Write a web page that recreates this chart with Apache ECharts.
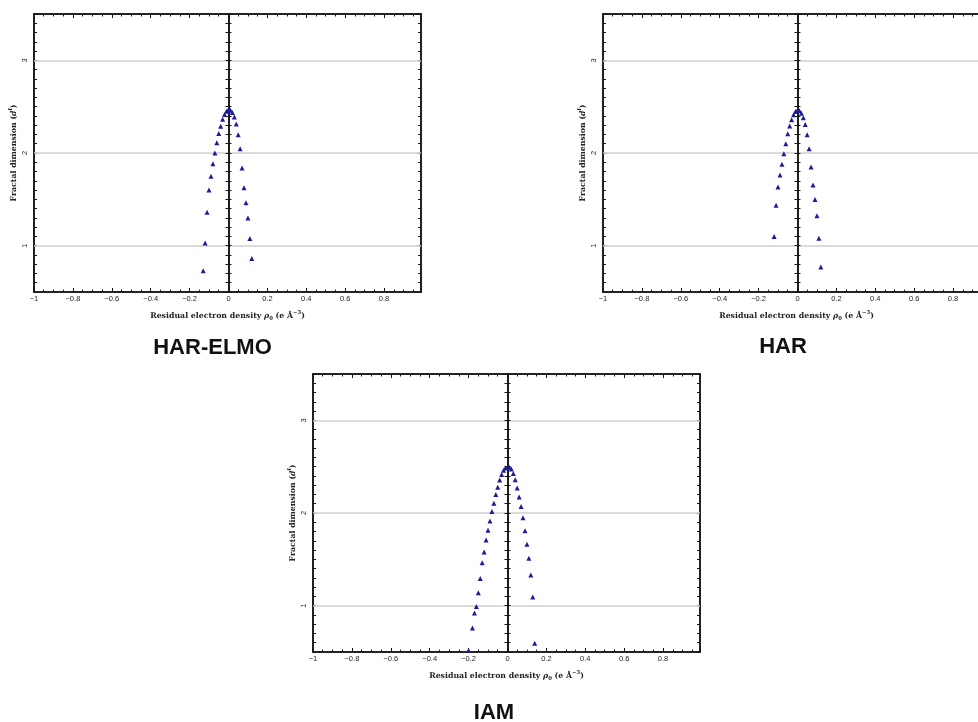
<!DOCTYPE html>
<html>
<head>
<meta charset="utf-8">
<script src="https://cdn.jsdelivr.net/npm/echarts@6/dist/echarts.min.js"></script>
<style>
  html, body { margin: 0; padding: 0; background: #ffffff; }
  #chart { width: 978px; height: 722px; }
</style>
</head>
<body>
<div id="chart"></div>
<script>
// Fractal dimension d^f of the residual electron density, binned by rho_0 (e Å^-3)

// HAR-ELMO refinement
const harElmoRho = [-0.13, -0.12, -0.11, -0.10, -0.09, -0.08, -0.07, -0.06, -0.05, -0.04, -0.03, -0.02, -0.01,
  0.00, 0.01, 0.02, 0.03, 0.04, 0.05, 0.06, 0.07, 0.08, 0.09, 0.10, 0.11, 0.12];
const harElmoDf = [0.73, 1.03, 1.36, 1.60, 1.75, 1.885, 2.00, 2.11, 2.21, 2.29, 2.365, 2.415, 2.45,
  2.47, 2.46, 2.437, 2.388, 2.314, 2.197, 2.047, 1.839, 1.625, 1.462, 1.298, 1.078, 0.862];

// HAR refinement
const harRho = [-0.12, -0.11, -0.10, -0.09, -0.08, -0.07, -0.06, -0.05, -0.04, -0.03, -0.02, -0.01,
  0.00, 0.01, 0.02, 0.03, 0.04, 0.05, 0.06, 0.07, 0.08, 0.09, 0.10, 0.11, 0.12];
const harDf = [1.10, 1.435, 1.633, 1.763, 1.878, 1.993, 2.10, 2.207, 2.291, 2.36, 2.412, 2.448,
  2.465, 2.457, 2.43, 2.38, 2.308, 2.198, 2.045, 1.849, 1.655, 1.498, 1.322, 1.079, 0.770];

// IAM refinement
const iamRho = [-0.20, -0.18, -0.17, -0.16, -0.15, -0.14, -0.13, -0.12, -0.11, -0.10, -0.09, -0.08, -0.07,
  -0.06, -0.05, -0.04, -0.03, -0.02, -0.01, 0.00, 0.01, 0.02, 0.03, 0.04, 0.05, 0.06, 0.07, 0.08,
  0.09, 0.10, 0.11, 0.12, 0.13, 0.14];
const iamDf = [0.52, 0.759, 0.92, 0.99, 1.14, 1.293, 1.464, 1.579, 1.709, 1.813, 1.914, 2.016, 2.106,
  2.20, 2.278, 2.355, 2.416, 2.46, 2.486, 2.495, 2.493, 2.475, 2.426, 2.358, 2.27, 2.173, 2.07, 1.948,
  1.809, 1.662, 1.512, 1.331, 1.094, 0.595];

const panelTitles = ['HAR-ELMO', 'HAR', 'IAM'];
const yLabelValues = [1, 2, 3];   // labelled ticks and grey reference lines
const xMin = -1, xMax = 0.99, xStep = 0.2;
const yMin = 0.5, yMax = 3.5, yStep = 0.1;

// layout of the three panels (pixels)
const layout = [
  { rho: harElmoRho, df: harElmoDf, left: 34,  top: 14,  titleX: 212.5, titleY: 337 },
  { rho: harRho,     df: harDf,     left: 603, top: 14,  titleX: 783,   titleY: 336 },
  { rho: iamRho,     df: iamDf,     left: 313, top: 374, titleX: 494,   titleY: 702 }
];
const plotW = 387, plotH = 278;

const ink = '#151515';
const serif = 'DejaVu Serif';
const nameRich = {
  t: { fontFamily: serif, fontWeight: 'bold', fontSize: 7.8, color: '#222', lineHeight: 11 },
  i: { fontFamily: serif, fontWeight: 'bold', fontStyle: 'italic', fontSize: 7.8, color: '#222', lineHeight: 11 },
  s: { fontFamily: serif, fontWeight: 'bold', fontSize: 5.3, color: '#222', lineHeight: 6, verticalAlign: 'bottom' },
  u: { fontFamily: serif, fontWeight: 'bold', fontSize: 5.3, color: '#222', lineHeight: 6, verticalAlign: 'top' }
};
const xName = '{t|Residual electron density }{i|ρ}{s|0}{t| (e Å}{u|−3}{t|)}';
const yName = '{t|Fractal dimension (}{i|d}{u|f}{t|)}';

function xLabel(v) {
  if (v > 0.9) return '';
  const r = Math.round(v * 10) / 10;
  return r < 0 ? '\u2212' + Math.abs(r) : String(Math.abs(r));
}

const tickStyle = { color: ink, width: 1 };
const labelFont = { fontFamily: 'Liberation Sans', fontSize: 7.5, color: '#1e1e1e' };

const grids = [], xAxes = [], yAxes = [], series = [], titles = [];

layout.forEach((p, i) => {
  grids.push({
    left: p.left, top: p.top, width: plotW, height: plotH,
    show: true, borderColor: ink, borderWidth: 1.5,
    containLabel: false, outerBoundsMode: 'none'
  });

  const xBase = {
    type: 'value', gridIndex: i, min: xMin, max: xMax, interval: xStep,
    axisLine: { show: true, onZero: false, lineStyle: { color: ink, width: 1.6 } },
    axisTick: { show: true, inside: true, length: 4, lineStyle: tickStyle },
    minorTick: { show: true, splitNumber: 4, length: 2.5, lineStyle: tickStyle },
    splitLine: { show: false }
  };
  xAxes.push(Object.assign({}, xBase, {
    position: 'bottom',
    axisLabel: Object.assign({ margin: 3, formatter: xLabel }, labelFont),
    name: xName, nameLocation: 'middle', nameGap: 18,
    nameTextStyle: { rich: nameRich }
  }));
  xAxes.push(Object.assign({}, xBase, { position: 'top', axisLabel: { show: false } }));

  const yBase = {
    type: 'value', gridIndex: i, min: yMin, max: yMax, interval: yStep,
    axisTick: { show: true, inside: true, length: 3, lineStyle: tickStyle },
    splitLine: { show: false }
  };
  // frame axes
  yAxes.push(Object.assign({}, yBase, {
    position: 'left',
    axisLine: { show: true, onZero: false, lineStyle: { color: ink, width: 1.5 } },
    axisLabel: Object.assign({ customValues: yLabelValues, rotate: 90, margin: 5,
      formatter: v => String(Math.round(v)) }, labelFont),
    name: yName, nameLocation: 'middle', nameGap: 15,
    nameTextStyle: { rich: nameRich }
  }));
  yAxes.push(Object.assign({}, yBase, {
    position: 'right',
    axisLine: { show: true, onZero: false, lineStyle: { color: ink, width: 1.5 } },
    axisLabel: { show: false }
  }));
  // axis through rho = 0, ticked on both sides, drawn above the grey lines
  ['left', 'right'].forEach(side => {
    yAxes.push(Object.assign({}, yBase, {
      position: side, z: 6,
      axisLine: { show: true, onZero: true, lineStyle: { color: ink, width: 1.6 } },
      axisLabel: { show: false }
    }));
  });

  series.push({
    type: 'scatter', xAxisIndex: 2 * i, yAxisIndex: 4 * i,
    symbol: 'triangle', symbolSize: 5,
    itemStyle: { color: '#1c1c9a', opacity: 1 },
    data: p.rho.map((r, k) => [r, p.df[k]]),
    z: 8,
    markLine: {
      silent: true, symbol: 'none', animation: false,
      label: { show: false },
      lineStyle: { color: '#cfcfcf', width: 1.5, type: 'solid', opacity: 1 },
      data: yLabelValues.map(v => ({ yAxis: v }))
    }
  });

  titles.push({
    text: panelTitles[i], left: p.titleX, top: p.titleY, textAlign: 'center', padding: 0,
    textStyle: { fontFamily: 'Liberation Sans', fontWeight: 'bold', fontSize: 22, color: '#111' }
  });
});

const chart = echarts.init(document.getElementById('chart'), null, { renderer: 'canvas' });
chart.setOption({
  backgroundColor: '#ffffff',
  animation: false,
  title: titles,
  grid: grids,
  xAxis: xAxes,
  yAxis: yAxes,
  series: series
});
</script>
</body>
</html>
